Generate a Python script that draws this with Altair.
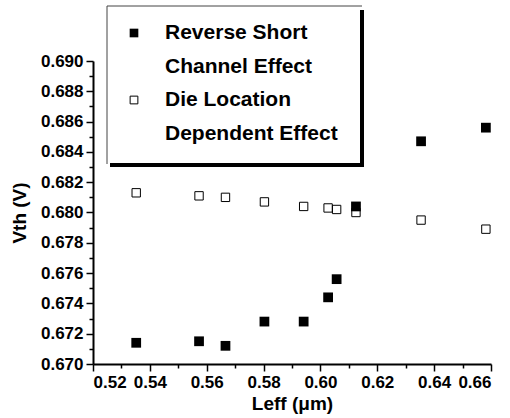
import altair as alt
import pandas as pd

# ---- data ----
leff = [0.5352, 0.5573, 0.5666, 0.5803, 0.5941, 0.6027, 0.6057, 0.6125, 0.6354, 0.6582]
vth_rsce = [0.6714, 0.6715, 0.6712, 0.6728, 0.6728, 0.6744, 0.6756, 0.6804, 0.6847, 0.6856]
vth_die = [0.6813, 0.6811, 0.6810, 0.6807, 0.6804, 0.6803, 0.6802, 0.6800, 0.6795, 0.6789]

legend_rsce = ["Reverse Short", "Channel Effect"]
legend_die = ["Die Location", "Dependent Effect"]

x_major = [0.52, 0.54, 0.56, 0.58, 0.60, 0.62, 0.64, 0.66]
x_minor = [0.53, 0.55, 0.57, 0.59, 0.61, 0.63, 0.65]
y_major = [0.670, 0.672, 0.674, 0.676, 0.678, 0.680, 0.682, 0.684, 0.686, 0.688, 0.690]
y_minor = [0.671, 0.673, 0.675, 0.677, 0.679, 0.681, 0.683, 0.685, 0.687, 0.689]

df_rsce = pd.DataFrame({"leff": leff, "vth": vth_rsce})
df_die = pd.DataFrame({"leff": leff, "vth": vth_die})
one = pd.DataFrame({"a": [0]})

FONT = "Liberation Sans"
x_scale = alt.Scale(domain=[0.52, 0.66], nice=False, zero=False)
y_scale = alt.Scale(domain=[0.670, 0.690], nice=False, zero=False)

filled = alt.Chart(df_rsce).mark_point(
    shape="square", size=95, filled=True, color="black", opacity=1
).encode(
    x=alt.X("leff:Q", scale=x_scale, axis=alt.Axis(
        values=x_major, format=".2f", title="Leff (\u03bcm)", orient="bottom",
        tickSize=7, grid=False, labelOverlap=False, labelPadding=3, titlePadding=4,
    )),
    y=alt.Y("vth:Q", scale=y_scale, axis=alt.Axis(
        values=y_major, format=".3f", title="Vth (V)", orient="left",
        tickSize=7, grid=False, labelOverlap=False, labelPadding=3, titlePadding=11,
    )),
)

hollow = alt.Chart(df_die).mark_point(
    shape="square", size=70, filled=False, color="black", strokeWidth=1, opacity=1
).encode(
    x=alt.X("leff:Q", scale=x_scale, axis=alt.Axis(
        values=x_minor, labels=False, domain=False, title="", orient="bottom",
        tickSize=4, grid=False,
    )),
    y=alt.Y("vth:Q", scale=y_scale, axis=alt.Axis(
        values=y_minor, labels=False, domain=False, title="", orient="left",
        tickSize=4, grid=False,
    )),
)

# ---- legend box (decoration, pixel positions relative to plot origin) ----
ox, oy = 93, 61  # plot origin in the page


def px(v):
    return alt.value(v - ox)


def py(v):
    return alt.value(v - oy)


box = alt.Chart(one).mark_rect(color="white").encode(
    x=px(107), x2=px(362), y=py(6), y2=py(164)
)
top_line = alt.Chart(one).mark_rule(color="#444", strokeWidth=1).encode(
    x=px(107), x2=px(362), y=py(6)
)
left_line = alt.Chart(one).mark_rule(color="#444", strokeWidth=1).encode(
    x=px(107), y=py(6), y2=py(164)
)
right_shadow = alt.Chart(one).mark_rule(color="black", strokeWidth=4).encode(
    x=px(362), y=py(10), y2=py(167)
)
bottom_shadow = alt.Chart(one).mark_rule(color="black", strokeWidth=4).encode(
    x=px(110), x2=px(364), y=py(165)
)

leg_sym_filled = alt.Chart(one).mark_point(
    shape="square", size=75, filled=True, color="black", opacity=1
).encode(x=px(134), y=py(33))
leg_sym_hollow = alt.Chart(one).mark_point(
    shape="square", size=60, filled=False, color="black", strokeWidth=1, opacity=1
).encode(x=px(134), y=py(100))

texts = []
for i, line in enumerate(legend_rsce + legend_die):
    texts.append(
        alt.Chart(one).mark_text(
            align="left", baseline="middle", font=FONT, fontSize=21,
            fontWeight="bold", color="black"
        ).encode(x=px(165), y=py(33 + 33.5 * i), text=alt.value(line))
    )

chart = alt.layer(
    filled, hollow, box, top_line, left_line, right_shadow, bottom_shadow,
    leg_sym_filled, leg_sym_hollow, *texts
).resolve_axis(
    x="independent", y="independent"
).properties(
    width=398,
    height=303,
    autosize=alt.AutoSizeParams(type="none"),
    padding={"left": ox, "top": oy, "right": 19, "bottom": 54},
    background="white",
).configure_view(
    stroke="transparent"
).configure_axis(
    domainColor="black",
    domainWidth=2,
    tickColor="black",
    tickWidth=1.5,
    labelColor="black",
    labelFont=FONT,
    labelFontSize=17,
    labelFontWeight="bold",
    titleColor="black",
    titleFont=FONT,
    titleFontSize=19,
    titleFontWeight="bold",
)

chart.save("out.html", embed_options={"renderer": "svg", "actions": False})
